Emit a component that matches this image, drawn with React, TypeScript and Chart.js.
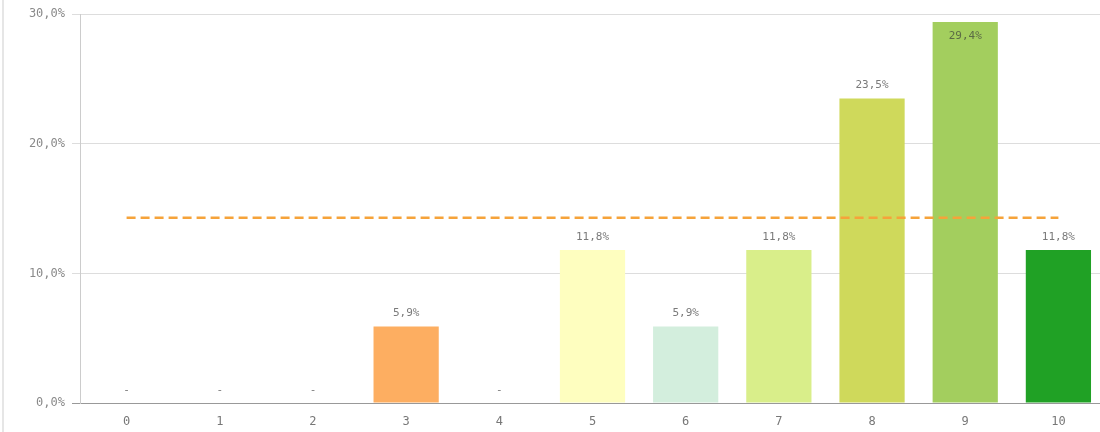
import React, { useEffect, useRef } from "react";
import { Chart, registerables } from "chart.js";

Chart.register(...registerables);

const categories = ["0", "1", "2", "3", "4", "5", "6", "7", "8", "9", "10"];
const shares = [0, 0, 0, 5.9, 0, 11.8, 5.9, 11.8, 23.5, 29.4, 11.8];
const averageLine = [14.3, 14.3, 14.3, 14.3, 14.3, 14.3, 14.3, 14.3, 14.3, 14.3, 14.3];
const barColors = [
  "#cccccc",
  "#cccccc",
  "#cccccc",
  "#fdae61",
  "#cccccc",
  "#fefebf",
  "#d3eedd",
  "#d9ee8a",
  "#cfd95b",
  "#a3ce5e",
  "#20a125",
];
const yTicks = [0, 10, 20, 30];

const FONT = "'DejaVu Sans Mono', monospace";

const fmt = (v: number) => v.toFixed(1).replace(".", ",") + "%";

const valueLabels = {
  id: "valueLabels",
  afterDatasetsDraw(chart: any) {
    const meta = chart.getDatasetMeta(1);
    const ctx = chart.ctx;
    const area = chart.chartArea;
    ctx.save();
    ctx.font = `11px ${FONT}`;
    ctx.textAlign = "center";
    ctx.textBaseline = "middle";
    meta.data.forEach((el: any, i: number) => {
      const v = shares[i];
      const text = v === 0 ? "-" : fmt(v);
      let y = el.y - 13;
      let color = "#7a7a7a";
      if (y - 6 < area.top) {
        y = el.y + 14;
        color = "#5b6b45";
      }
      ctx.fillStyle = color;
      ctx.fillText(text, el.x, y);
    });
    ctx.restore();
  },
};

export default function App() {
  const ref = useRef<HTMLCanvasElement>(null);
  useEffect(() => {
    if (!ref.current) return;
    const chart = new Chart(ref.current, {
      type: "bar",
      data: {
        labels: categories,
        datasets: [
          {
            type: "line",
            data: averageLine,
            borderColor: "#f6a33a",
            borderWidth: 2.5,
            borderDash: [9, 5],
            pointRadius: 0,
            fill: false,
            order: 0,
          } as any,
          {
            type: "bar",
            data: shares,
            backgroundColor: barColors,
            barPercentage: 0.7,
            categoryPercentage: 1,
            order: 1,
          },
        ],
      },
      plugins: [valueLabels],
      options: {
        responsive: false,
        animation: false,
        devicePixelRatio: 1,
        layout: { padding: { top: 13, right: 1, left: 0, bottom: 0 } },
        plugins: {
          legend: { display: false },
          tooltip: { enabled: false },
        },
        scales: {
          x: {
            grid: { display: false, drawTicks: false, tickLength: 0 },
            border: { display: true, color: "#999999", width: 1 },
            ticks: {
              padding: 12,
              color: "#777777",
              font: { family: FONT, size: 12 },
            },
            afterFit: (s: any) => {
              s.height = 29;
            },
          },
          y: {
            min: 0,
            max: 30,
            afterBuildTicks: (s: any) => {
              s.ticks = yTicks.map((v) => ({ value: v }));
            },
            grid: {
              color: (c: any) => (c.tick && c.tick.value === 0 ? "#999999" : "#dddddd"),
              tickLength: 8,
              drawTicks: true,
            },
            border: { display: true, color: "#cccccc" },
            ticks: {
              padding: 7,
              color: "#8a8a8a",
              font: { family: FONT, size: 12 },
              callback: (v: any) => fmt(Number(v)),
            },
            afterFit: (s: any) => {
              s.width = 80;
            },
          },
        },
      },
    });
    return () => chart.destroy();
  }, []);
  return (
    <div
      style={{
        position: "fixed",
        left: 0,
        top: 0,
        width: 1100,
        height: 432,
        overflow: "hidden",
        background: "#ffffff",
      }}
    >
      <div
        style={{
          position: "absolute",
          left: 2,
          top: 0,
          width: 2,
          height: 432,
          background: "#e6e6e6",
        }}
      />
      <canvas
        ref={ref}
        width={1106}
        height={432}
        style={{ position: "absolute", left: 0, top: 0, width: 1106, height: 432 }}
      />
    </div>
  );
}
